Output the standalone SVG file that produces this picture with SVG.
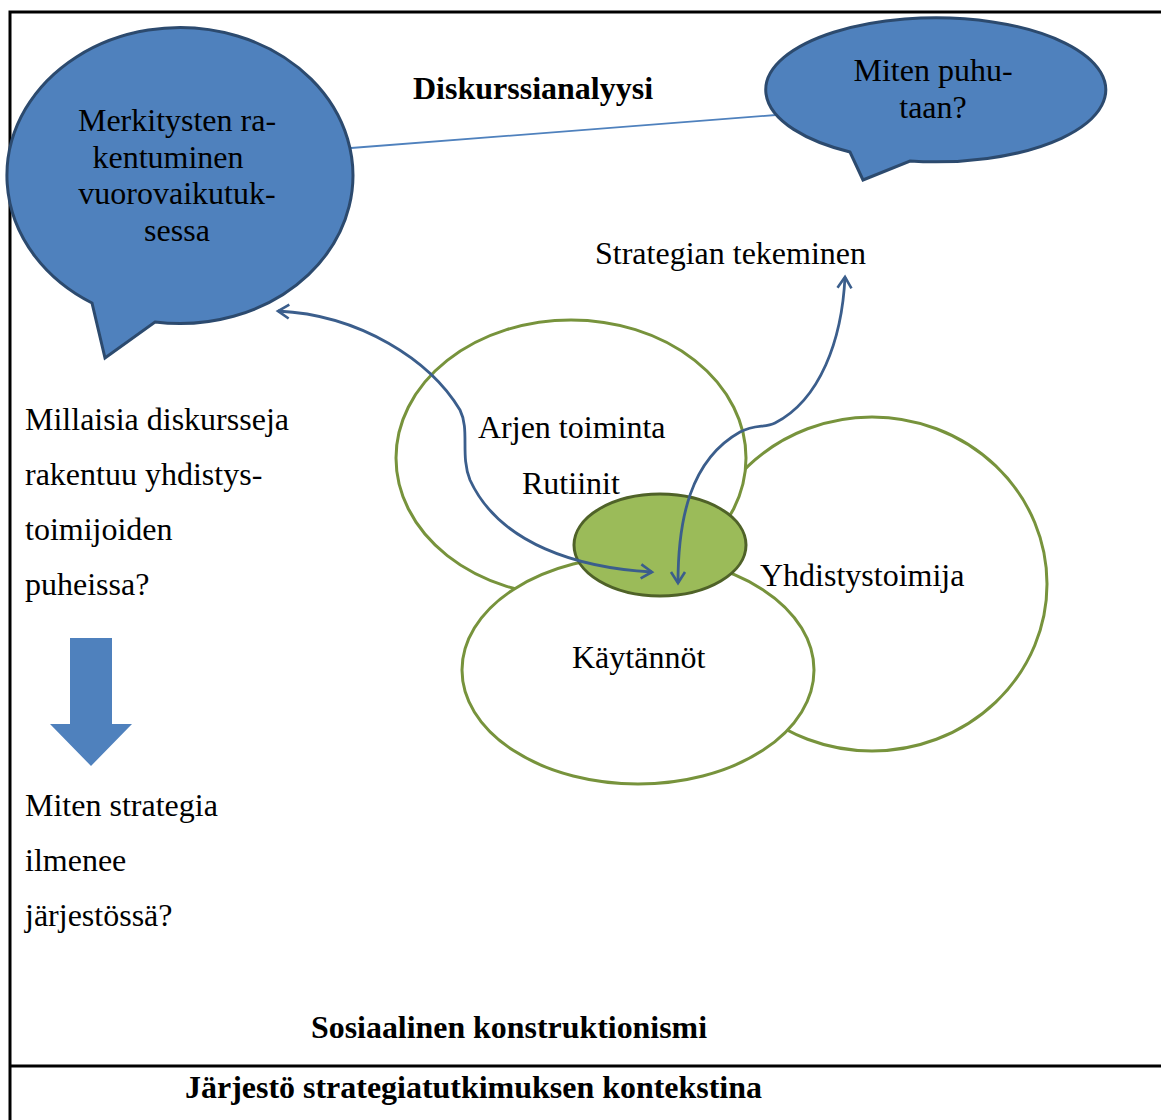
<svg xmlns="http://www.w3.org/2000/svg" width="1161" height="1120" viewBox="0 0 1161 1120">
<style>
.t{font-family:"Liberation Serif","Times New Roman",serif;font-size:32px;fill:#000}
.b{font-weight:bold}
.bub{fill:#4f81bd;stroke:#2c4a6e;stroke-width:3}
.ring{fill:#fff;stroke:#77933c;stroke-width:3}
.arc{fill:none;stroke:#3b5e8c;stroke-width:2.8}
</style>
<defs>
<marker id="ah" viewBox="0 0 20 20" refX="15" refY="10" markerWidth="20" markerHeight="20" markerUnits="userSpaceOnUse" orient="auto-start-reverse">
<path d="M4,3 L15,10 L4,17" fill="none" stroke="#3b5e8c" stroke-width="2.6"/>
</marker>
</defs>
<rect width="1161" height="1120" fill="#fff"/>
<g id="frame" fill="none" stroke="#000">
<path d="M10,1120 V12 H1161" stroke-width="3"/>
<path d="M10,1066 H1161" stroke-width="3"/>
</g>
<g id="connectors">
<line x1="351" y1="148" x2="776" y2="115" stroke="#4f81bd" stroke-width="1.8"/>
</g>
<g id="bubble-left">
<path class="bub" d="M92,303 A173,148 0 1 1 155,322 L105,358 Z"/>
<text class="t" text-anchor="middle" x="177" y="131">Merkitysten ra-</text>
<text class="t" text-anchor="middle" x="168" y="168">kentuminen</text>
<text class="t" text-anchor="middle" x="177" y="204">vuorovaikutuk-</text>
<text class="t" text-anchor="middle" x="177" y="241">sessa</text>
</g>
<g id="bubble-right">
<path class="bub" d="M850,152 A170,72 0 1 1 910,161 L863,180 Z"/>
<text class="t" text-anchor="middle" x="933" y="81">Miten puhu-</text>
<text class="t" text-anchor="middle" x="933" y="118">taan?</text>
</g>
<g id="title-top"><text class="t b" x="413" y="99">Diskurssianalyysi</text></g>
<g id="ring-yhdistys"><ellipse class="ring" cx="872" cy="584" rx="175" ry="167"/></g>
<g id="ring-arjen"><ellipse class="ring" cx="571" cy="458" rx="175" ry="138"/></g>
<g id="ring-kaytannot"><ellipse class="ring" cx="638" cy="670" rx="176" ry="114"/></g>
<g id="core"><ellipse cx="660" cy="545" rx="86" ry="51" fill="#9bbb59" stroke="#4f6228" stroke-width="3"/></g>
<g id="labels">
<text class="t" x="478" y="438">Arjen toiminta</text>
<text class="t" x="522" y="494">Rutiinit</text>
<text class="t" x="760" y="586">Yhdistystoimija</text>
<text class="t" x="572" y="668">Käytännöt</text>
<text class="t" x="595" y="264">Strategian tekeminen</text>
</g>
<g id="connectors-arcs">
<path class="arc" marker-start="url(#ah)" marker-end="url(#ah)" d="M278,311 C360,315 430,360 460,410 C470,430 460,455 470,480 C500,545 580,568 652,572"/>
<path class="arc" marker-start="url(#ah)" marker-end="url(#ah)" d="M678,583 C678,520 690,460 740,432 C755,424 765,428 775,423 C820,400 842,340 845,277"/>
</g>
<g id="questions">
<text class="t" x="25" y="430">Millaisia diskursseja</text>
<text class="t" x="25" y="485">rakentuu yhdistys-</text>
<text class="t" x="25" y="540">toimijoiden</text>
<text class="t" x="25" y="595">puheissa?</text>
<text class="t" x="25" y="816">Miten strategia</text>
<text class="t" x="25" y="871">ilmenee</text>
<text class="t" x="25" y="926">järjestössä?</text>
</g>
<g id="down-arrow"><path d="M70,638 H112 V724 H132 L91,766 L50,724 H70 Z" fill="#4f81bd"/></g>
<g id="footer">
<text class="t b" x="311" y="1038" font-size="28" textLength="396" lengthAdjust="spacingAndGlyphs">Sosiaalinen konstruktionismi</text>
<text class="t b" x="185" y="1098" font-size="28" textLength="577" lengthAdjust="spacingAndGlyphs">Järjestö strategiatutkimuksen kontekstina</text>
</g>
</svg>
